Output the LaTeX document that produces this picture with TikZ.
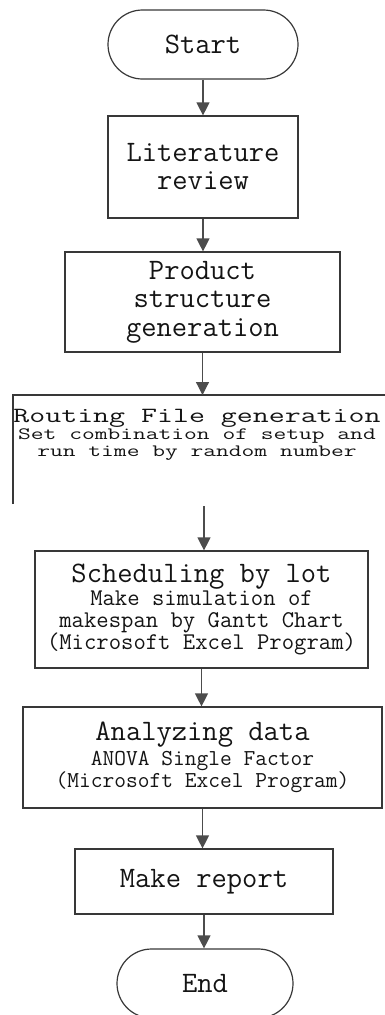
\documentclass[tikz,border=0pt]{standalone}
\usepackage{fontspec}
\usepackage{graphicx}
\usetikzlibrary{arrows.meta,shapes.misc}

% font helpers: size / fixed baseline distance, never widened by \lineskip
\newcommand{\fsz}[2]{\fontsize{#1}{#2}\selectfont\setlength{\lineskiplimit}{-100pt}}
\newcommand{\squash}[1]{\scalebox{1}[0.7]{#1}}

\begin{document}
\begin{tikzpicture}[x=1pt,y=-1pt,
  stroke/.style={draw=black!78, line width=1.2pt},
  stepbox/.style={stroke, rectangle, align=center, inner sep=0pt, text=black!92},
  terminal/.style={stroke, rounded rectangle, align=center, inner sep=0pt, text=black!92},
  bigtext/.style={font=\ttfamily\fsz{29.7}{28}},
  arr/.style={draw=black!70, line width=1.2pt, -{Triangle[width=13pt,length=13pt]}},
]
\useasboundingbox (0,0) rectangle (385,1015);

% process steps
\node[terminal, bigtext, minimum width=190pt, minimum height=69pt] (start) at (203,44.5) {Start};
\node[stepbox, bigtext, minimum width=190pt, minimum height=102pt] (lit) at (203,167) {Literature\\review};
\node[stepbox, font=\ttfamily\fsz{29.7}{28.5}, minimum width=275pt, minimum height=100pt] (prod) at (202.5,302) {Product\\structure\\generation};

% routing step: open frame (top and left sides only)
\coordinate (rtl) at (13,395);
\coordinate (rtr) at (385,395);
\coordinate (rbl) at (13,504);
\draw[stroke] (rbl) -- (rtl) -- (rtr);
\node[align=center, inner sep=0pt, text=black!92, font=\ttfamily\fsz{24.8}{17}] (route) at (197,435)
  {\squash{\fsz{31}{31}Routing File generation}\\
   \squash{Set combination of setup and}\\
   \squash{run time by random number}};
\coordinate (rt) at (204,506);

\node[stepbox, font=\ttfamily\fsz{24}{22}, minimum width=333pt, minimum height=117pt] (sched) at (201.5,609.5)
  {{\fsz{29.7}{29.7}Scheduling by lot}\\[1pt]
   Make simulation of\\
   makespan by Gantt Chart\\
   (Microsoft Excel Program)};
\node[stepbox, font=\ttfamily\fsz{22.8}{22.5}, minimum width=359pt, minimum height=101pt] (anal) at (202.5,757.5)
  {{\fsz{29.7}{29.7}Analyzing data}\\[2pt]
   ANOVA Single Factor\\
   (Microsoft Excel Program)};
\node[stepbox, bigtext, minimum width=258pt, minimum height=65pt] (rep) at (204,881.5) {Make report};
\node[terminal, bigtext, minimum width=176pt, minimum height=69pt] (end) at (205,983.5) {End};

% connectors
\draw[arr] (start.south) -- (start.south |- lit.north);
\draw[arr] (lit.south) -- (lit.south |- prod.north);
\draw[arr] (prod.south) -- (prod.south |- rtl);
\draw[arr] (rt) -- (rt |- sched.north);
\draw[arr] (sched.south) -- (sched.south |- anal.north);
\draw[arr] (anal.south) -- (anal.south |- rep.north);
\draw[arr] (rep.south) -- (rep.south |- end.north);
\end{tikzpicture}
\end{document}
